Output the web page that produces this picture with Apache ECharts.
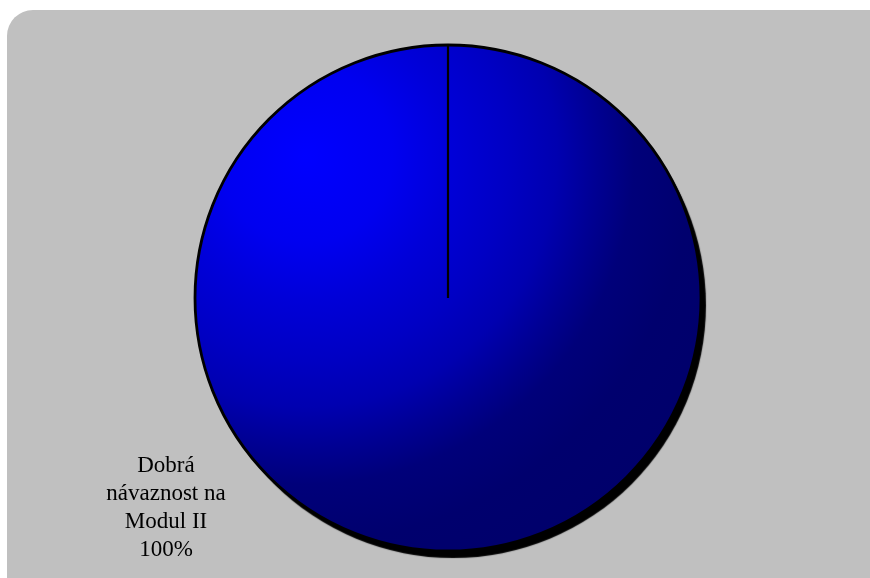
<!DOCTYPE html>
<html>
<head>
<meta charset="utf-8">
<script src="https://cdn.jsdelivr.net/npm/echarts@6/dist/echarts.min.js"></script>
<style>
html,body{margin:0;padding:0;background:#ffffff;}
#chart{width:870px;height:578px;}
</style>
</head>
<body>
<div id="chart"></div>
<script>
const categories = ['Dobrá\nnávaznost na\nModul II'];
const values = [100];

const chart = echarts.init(document.getElementById('chart'), null, {renderer: 'canvas'});

const fill = {
  type: 'radial', x: 0.22, y: 0.22, r: 0.95,
  colorStops: [
    {offset: 0, color: '#0000ff'},
    {offset: 0.18, color: '#0000f0'},
    {offset: 0.3, color: '#0000d8'},
    {offset: 0.42, color: '#0000c4'},
    {offset: 0.52, color: '#0000b0'},
    {offset: 0.6, color: '#000094'},
    {offset: 0.68, color: '#00007a'},
    {offset: 0.8, color: '#00006e'},
    {offset: 1, color: '#00006a'}
  ]
};

const data = categories.map((c, i) => ({name: c, value: values[i]}));
const common = {
  type: 'pie',
  center: [448, 298],
  radius: 253,
  startAngle: 90,
  clockwise: true,
  silent: true,
  labelLine: {show: false}
};

chart.setOption({
  animation: false,
  backgroundColor: 'transparent',
  graphic: [{
    type: 'rect', id: 'bg', z: -100, silent: true,
    shape: {x: 7, y: 10, width: 900, height: 620, r: 26},
    style: {fill: '#c0c0c0'}
  }],
  series: [
    Object.assign({}, common, {
      z: 1,
      data: data,
      itemStyle: {
        color: '#000000',
        borderWidth: 0,
        shadowColor: 'rgba(0,0,0,1)',
        shadowBlur: 1,
        shadowOffsetX: 5,
        shadowOffsetY: 7
      },
      label: {show: false}
    }),
    Object.assign({}, common, {
      z: 2,
      data: data,
      itemStyle: {
        color: fill,
        borderColor: '#000000',
        borderWidth: 2.8
      },
      label: {
        show: true,
        position: 'outside',
        formatter: p => p.name + '\n' + p.percent + '%',
        fontFamily: '"Liberation Serif", "Times New Roman", serif',
        fontSize: 23,
        lineHeight: 28,
        color: '#000000',
        align: 'center'
      },
      labelLayout: () => ({x: 166, y: 508, align: 'center', verticalAlign: 'middle'})
    })
  ]
});

// radial edge of the single slice, taken from the library's own layout
const layout = chart.getModel().getSeriesByIndex(1).getData().getItemLayout(0);
chart.setOption({
  graphic: [{
    type: 'line', id: 'edge', z: 100, silent: true,
    shape: {x1: layout.cx, y1: layout.cy, x2: layout.cx, y2: layout.cy - layout.r},
    style: {stroke: '#000000', lineWidth: 2.2}
  }]
});
</script>
</body>
</html>
